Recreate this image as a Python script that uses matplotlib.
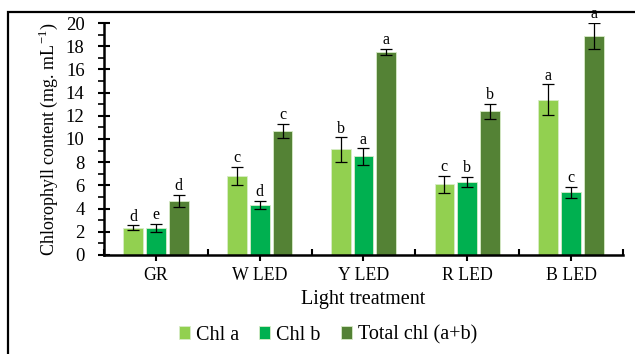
import numpy as np
import matplotlib.pyplot as plt
from matplotlib.patches import Rectangle
from matplotlib.ticker import MultipleLocator, FixedLocator

plt.rcParams['font.family'] = ['Liberation Serif', 'DejaVu Serif']
plt.rcParams['mathtext.fontset'] = 'custom'
plt.rcParams['mathtext.rm'] = 'Liberation Serif'

treatments = ["GR", "W LED", "Y LED", "R LED", "B LED"]
series = ["Chl a", "Chl b", "Total chl (a+b)"]

chl_a = [2.35, 6.8, 9.1, 6.1, 13.4]
chl_b = [2.35, 4.3, 8.5, 6.3, 5.4]
chl_total = [4.65, 10.7, 17.5, 12.4, 18.9]

err_a = [0.2, 0.8, 1.05, 0.75, 1.3]
err_b = [0.35, 0.35, 0.7, 0.45, 0.5]
err_total = [0.55, 0.6, 0.3, 0.65, 1.1]

letters_a = ["d", "c", "b", "c", "a"]
letters_b = ["e", "d", "a", "b", "c"]
letters_total = ["d", "c", "a", "b", "a"]

colors = ["#92D050", "#00B050", "#548235"]

fig = plt.figure(figsize=(6.35, 3.54), dpi=100)
ax = fig.add_axes([0.1638, 0.2797, 0.8172, 0.6553])

x = np.arange(len(treatments))
width = 0.19
step = 0.22
data = [(chl_a, err_a, letters_a), (chl_b, err_b, letters_b),
        (chl_total, err_total, letters_total)]

for i, (vals, errs, lets) in enumerate(data):
    pos = x + (i - 1) * step
    ax.bar(pos, vals, width, color=colors[i], edgecolor="#d8ecc8",
           linewidth=0.6, label=series[i], zorder=2)
    ax.errorbar(pos, vals, yerr=errs, fmt="none", ecolor="black",
                elinewidth=0.9, capsize=4, capthick=0.9, zorder=3)
    for p, v, e, t in zip(pos, vals, errs, lets):
        ax.text(p, v + e + 0.05, t, ha="center", va="bottom", fontsize=11.5)

ax.set_xlim(-0.5, 4.5)
ax.set_ylim(0, 20)
ax.set_xticks(x)
ax.set_xticklabels(treatments, fontsize=12.8)
ax.xaxis.set_minor_locator(FixedLocator(np.arange(-0.5, 5, 1.0)))
ax.yaxis.set_major_locator(MultipleLocator(2))
ax.yaxis.set_minor_locator(MultipleLocator(1))
ax.tick_params(axis="x", which="major", direction="out", length=4, width=1.5, pad=5)
ax.tick_params(axis="x", which="minor", direction="in", length=4, width=1.5)
ax.tick_params(axis="y", which="major", direction="inout", length=8, width=1.5,
               labelsize=13.5, pad=10)
ax.tick_params(axis="y", which="minor", direction="out", length=4, width=1.2)

for s in ["top", "right"]:
    ax.spines[s].set_visible(False)
for s in ["left", "bottom"]:
    ax.spines[s].set_linewidth(1.8)

ax.set_ylabel("Chlorophyll content (mg. mL$^{\\mathregular{-1}}$)", fontsize=13,
              labelpad=4)
ax.set_xlabel("Light treatment", fontsize=14.5, labelpad=4)

ax.legend(loc="center", bbox_to_anchor=(328 / 635, 1 - 335 / 354),
          bbox_transform=fig.transFigure, ncol=3, frameon=False, fontsize=14.5,
          handlelength=0.55, handleheight=0.55, handletextpad=0.3, columnspacing=1.0)

# outer frame, running off the right and bottom edges
fig.patches.append(Rectangle((8 / 635, -0.1), 1.2, 1.1 - 12 / 354,
                             transform=fig.transFigure, fill=False,
                             edgecolor="black", linewidth=1.6))

fig.savefig("out.png", dpi=100)
